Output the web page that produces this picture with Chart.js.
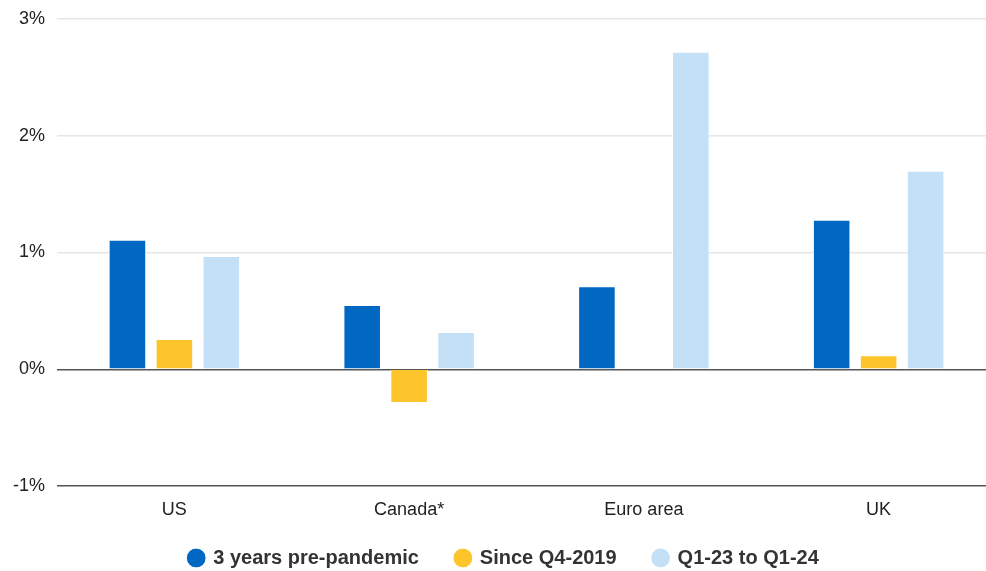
<!DOCTYPE html>
<html>
<head>
<meta charset="utf-8">
<script src="https://cdn.jsdelivr.net/npm/chart.js@4"></script>
<style>
  html, body { margin: 0; padding: 0; background: #fff; overflow: hidden; }
  #wrap { width: 996px; height: 571px; }
</style>
</head>
<body>
<div id="wrap"><canvas id="miGrafico"></canvas></div>
<script>
const categorias = ['US', 'Canada*', 'Euro area', 'UK'];
const prePandemia = [1.11, 0.55, 0.71, 1.28];
const desdeQ4 = [0.26, -0.29, null, 0.12];
const q1aQ1 = [0.97, 0.32, 2.72, 1.70];
const ticksY = [-1, 0, 1, 2, 3];

Chart.defaults.font.family = '"Liberation Sans", Arial, sans-serif';

// la leyenda usa padding grande para separar items; recortamos su alto
// y la subimos un poco al dibujar (sin el recorte de su caja)
const ajusteLeyenda = {
    id: 'ajusteLeyenda',
    beforeInit(chart) {
        const leyenda = chart.legend;
        const fitOriginal = leyenda.fit;
        leyenda.fit = function () {
            fitOriginal.call(this);
            this.height = 50;
        };
        leyenda.draw = function () {
            const c = this.ctx;
            c.save();
            c.translate(6, -10);
            this._draw();
            c.restore();
        };
    }
};

const ctx = document.getElementById('miGrafico').getContext('2d');
const miGrafico = new Chart(ctx, {
    type: 'bar',
    data: {
        labels: categorias,
        datasets: [{
            label: '3 years pre-pandemic',
            data: prePandemia,
            backgroundColor: '#0068c2',
            borderColor: '#ffffff',
            borderWidth: 1
        }, {
            label: 'Since Q4-2019',
            data: desdeQ4,
            backgroundColor: '#fdc42c',
            borderColor: '#ffffff',
            borderWidth: 1
        }, {
            label: 'Q1-23 to Q1-24',
            data: q1aQ1,
            backgroundColor: '#c3e0f7',
            borderColor: '#ffffff',
            borderWidth: 1
        }]
    },
    options: {
        responsive: true,
        maintainAspectRatio: false,
        animation: false,
        categoryPercentage: 0.6,
        barPercentage: 0.8,
        layout: { padding: 0 },
        scales: {
            x: {
                afterFit: (s) => { s.height = 35; },
                grid: { display: false },
                border: { display: false },
                ticks: { color: '#222', font: { size: 18 }, padding: 5 }
            },
            y: {
                min: -1,
                max: 3,
                afterFit: (s) => { s.width = 57; s.paddingTop = 19; },
                afterBuildTicks: (s) => { s.ticks = ticksY.map(v => ({ value: v })); },
                border: { display: false },
                grid: {
                    color: (c) => (c.tick && c.tick.value <= 0) ? '#555555' : '#e6e6e6',
                    lineWidth: 1.5,
                    drawTicks: false
                },
                ticks: {
                    color: '#222',
                    font: { size: 18 },
                    padding: 12,
                    callback: (v) => v + '%'
                }
            }
        },
        plugins: {
            legend: {
                position: 'bottom',
                labels: {
                    usePointStyle: true,
                    pointStyle: 'circle',
                    boxWidth: 14,
                    boxHeight: 14,
                    padding: 37,
                    color: '#333',
                    font: { size: 20, weight: 'bold' }
                }
            },
            tooltip: { enabled: false }
        }
    },
    plugins: [ajusteLeyenda]
});
</script>
</body>
</html>
